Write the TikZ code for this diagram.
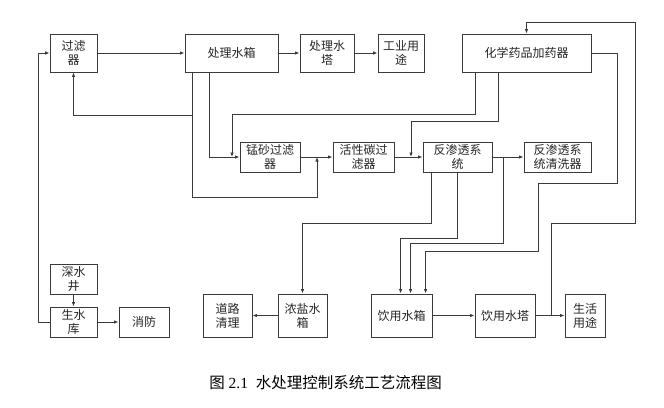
\documentclass[tikz,border=0pt]{standalone}
\usepackage{fontspec}
\setmainfont{Liberation Serif}
\newfontfamily\cjk{Noto Sans CJK SC}
\usetikzlibrary{arrows.meta}
\definecolor{ln}{HTML}{3A3A3A}
\tikzset{
  box/.style={draw=ln, line width=0.9pt, rectangle, inner sep=0pt, align=center,
    font=\cjk\fontsize{12}{14}\selectfont, text=black!85},
  arr/.style={draw=ln, line width=0.9pt, -{Latex[length=4.5pt,width=3.5pt]}},
  ln/.style={draw=ln, line width=0.9pt}
}
\begin{document}
\begin{tikzpicture}[x=1pt,y=-1pt]
\fill[white] (0,0) rectangle (664,407);
\useasboundingbox (0,0) rectangle (664,407);
% nodes
\node[box, minimum width=47pt, minimum height=38pt] (guolv) at (73.5,53) {过滤\\器};
\node[box, minimum width=93pt, minimum height=38pt] (sxiang) at (231.5,53) {处理水箱};
\node[box, minimum width=54pt, minimum height=38pt] (sta) at (327,53) {处理水\\塔};
\node[box, minimum width=46pt, minimum height=38pt] (gongye) at (401,53) {工业用\\途};
\node[box, minimum width=129pt, minimum height=38pt] (huaxue) at (526.5,53) {化学药品加药器};
\node[box, minimum width=60pt, minimum height=30pt] (mengsha) at (270,157) {锰砂过滤\\器};
\node[box, minimum width=61pt, minimum height=30pt] (huoxing) at (363.5,157) {活性碳过\\滤器};
\node[box, minimum width=69pt, minimum height=30pt] (fanshen) at (457.5,157) {反渗透系\\统};
\node[box, minimum width=67pt, minimum height=30pt] (qingxi) at (557.5,157) {反渗透系\\统清洗器};
\node[box, minimum width=47pt, minimum height=30pt] (shenshui) at (73.5,279) {深水\\井};
\node[box, minimum width=47pt, minimum height=30pt] (shengshui) at (73.5,322) {生水\\库};
\node[box, minimum width=50pt, minimum height=30pt] (xiaofang) at (144,322) {消防};
\node[box, minimum width=49pt, minimum height=43pt] (daolu) at (227.5,315.5) {道路\\清理};
\node[box, minimum width=49pt, minimum height=43pt] (nongyan) at (302.5,315.5) {浓盐水\\箱};
\node[box, minimum width=61pt, minimum height=43pt] (yyxiang) at (401.5,315.5) {饮用水箱};
\node[box, minimum width=60pt, minimum height=43pt] (yyta) at (505,315.5) {饮用水塔};
\node[box, minimum width=40pt, minimum height=43pt] (shenghuo) at (585,315.5) {生活\\用途};
% junction coordinates
\coordinate (j1) at (317,157);
\coordinate (j2) at (232,157);
\coordinate (j3) at (411,157);
\coordinate (b1) at (193,115);
\coordinate (b2) at (551,315.5);
\coordinate (b3) at (503,157);
% main flow
\draw[arr] (guolv.east) -- (sxiang.west);
\draw[arr] (sxiang.east) -- (sta.west);
\draw[arr] (sta.east) -- (gongye.west);
\draw[arr] (mengsha.east) -- (huoxing.west);
\draw[arr] (huoxing.east) -- (fanshen.west);
\draw[arr] (fanshen.east) -- (qingxi.west);
\draw[arr] (shenshui.south) -- (shengshui.north);
\draw[arr] (shengshui.east) -- (xiaofang.west);
\draw[arr] (nongyan.west) -- (daolu.east);
\draw[arr] (yyxiang.east) -- (yyta.west);
\draw[arr] (yyta.east) -- (shenghuo.west);
% loops
\draw[arr] (shengshui.west) -- ++(-11,0) |- (guolv.west);
\draw[arr] ([xshift=8pt]sxiang.south west) -- ++(0,125) -| (j1);
\draw[arr] (b1) -| (guolv.south);
\draw[arr] ([xshift=25pt]sxiang.south west) |- (mengsha.west);
\draw[arr] ([xshift=14pt]huaxue.south west) -- ++(0,42) -| (j2);
\draw[arr] ([xshift=37pt]huaxue.south west) -- ++(0,49) -| (j3);
\draw[arr] (huaxue.east) -| ++(26,130) -| ++(-79,68) -| ([xshift=55pt]yyxiang.north west);
\draw[arr] (b2) -- ++(0,-92.5) -- ++(84,0) -- ++(0,-201) -| (huaxue.north);
\draw[arr] ([xshift=9pt]fanshen.south west) -- ++(0,51) -| (nongyan.north);
\draw[arr] ([xshift=35pt]fanshen.south west) -- ++(0,66) -| ([xshift=30pt]yyxiang.north west);
\draw[arr] (b3) -- ++(0,86) -| ([xshift=40pt]yyxiang.north west);
% caption
\node[font=\fontsize{15.5}{18}\selectfont, text=black] (cap) at (325.5,383) {{\cjk 图} 2.1\ \ {\cjk 水处理控制系统工艺流程图}};
\end{tikzpicture}
\end{document}
